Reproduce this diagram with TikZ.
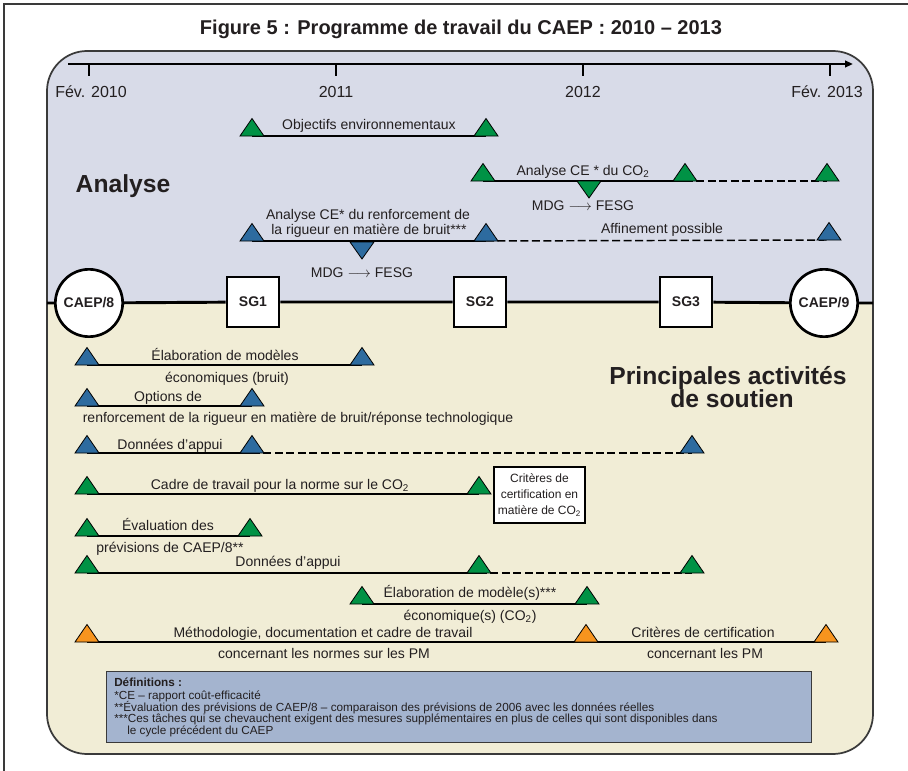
\documentclass[tikz,border=0pt]{standalone}
\usepackage{fontspec}
\setmainfont{Liberation Sans}
\usetikzlibrary{arrows.meta}
\definecolor{upcol}{HTML}{D8DBE8}
\definecolor{lowcol}{HTML}{F1EDD6}
\definecolor{defcol}{HTML}{A4B4CF}
\definecolor{msgreen}{HTML}{009245}
\definecolor{msblue}{HTML}{2D6B9F}
\definecolor{msorange}{HTML}{F7941E}
\definecolor{txt}{HTML}{231F20}
\definecolor{panelcol}{HTML}{3A3A3A}
\begin{document}
\begin{tikzpicture}[x=0.75pt,y=-0.75pt,
  lbl/.style={font=\fontsize{10.5}{12.6}\selectfont, inner sep=0pt, anchor=base, text=txt},
  big/.style={font=\fontsize{18.5}{22}\bfseries\selectfont, inner sep=0pt, anchor=base, text=txt},
  axl/.style={font=\fontsize{12}{14}\selectfont, inner sep=0pt, anchor=base, text=txt},
  defl/.style={font=\fontsize{8.8}{10}\selectfont, inner sep=0pt, anchor=base west, text=txt},
  ms/.pic={\path[pic actions, draw=black, line width=0.6pt] (-12,0) -- (0,-17.5) -- (12,0) -- cycle;},
  msd/.pic={\path[pic actions, draw=black, line width=0.6pt] (-12,0) -- (12,0) -- (0,17) -- cycle;},
  task/.style={line width=1.1pt, draw=black},
  taskd/.style={task, dash pattern=on 6pt off 2.6pt},
  meet/.style={circle, draw=black, line width=2pt, fill=white, minimum size=50.5pt, inner sep=0pt, font=\fontsize{10.5}{12}\bfseries\selectfont, text=txt},
  sgbox/.style={rectangle, draw=black, line width=1.6pt, fill=white, minimum width=39.5pt, minimum height=38pt, inner sep=0pt, font=\fontsize{10.5}{12}\bfseries\selectfont, text=txt},
]
\useasboundingbox (0,0) rectangle (908,771);
\clip (0,0) rectangle (908,771);
\draw[line width=1.8pt, draw=panelcol] (4,4) rectangle (960,820);

% title
\node[font=\fontsize{15}{18}\bfseries\selectfont, anchor=base, inner sep=0pt, text=txt] (title) at (461,35) {Figure 5 : Programme de travail du CAEP : 2010 – 2013};

% panel
\fill[lowcol, rounded corners=30pt] (47,51) rectangle (873,754);
\begin{scope}
\clip[rounded corners=30pt] (47,51) rectangle (873,754);
\fill[upcol] (40,40) rectangle (880,303);
\end{scope}
\draw[panelcol, line width=1.3pt, rounded corners=30pt] (47,51) rectangle (873,754);

% top axis
\coordinate (ax0) at (68,64);
\coordinate (ax1) at (853,64);
\draw[line width=1.6pt, -{Triangle[length=6pt,width=5pt]}] (ax0) -- (ax1);
\foreach \x in {89,336,583,830} {
  \coordinate (tk\x) at (\x,64);
  \draw[line width=1.6pt] (tk\x) -- ++(0,12);
}
\node[axl] (y10) at (91,97) {Fév. 2010};
\node[axl] (y11) at (336,97) {2011};
\node[axl] (y12) at (583,97) {2012};
\node[axl] (y13) at (827,97) {Fév. 2013};

% middle timeline
\coordinate (tl0) at (47,303);
\coordinate (tl1) at (873,303);
\node[meet] (c8) at (89,303) {CAEP/8};
\node[meet] (c9) at (824,303) {CAEP/9};
\node[sgbox] (sg1) at (253,302) {SG1};
\node[sgbox] (sg2) at (480,302) {SG2};
\node[sgbox] (sg3) at (686,302) {SG3};
\begin{scope}[on background layer/.style={}]
\end{scope}
\draw[line width=2.2pt] (tl0) -- (c8) (c8) -- (sg1) (sg1) -- (sg2) (sg2) -- (sg3) (sg3) -- (c9) (c9) -- (tl1);

% ---------- Analyse ----------
\node[big] (analyse) at (123,192) {Analyse};

% Objectifs environnementaux
\coordinate (o1) at (252,136);
\coordinate (o2) at (486,136);
\draw[task] (o1) -- (o2);
\pic[fill=msgreen] at (o1) {ms};
\pic[fill=msgreen] at (o2) {ms};
\node[lbl] (ot) at (369,129) {Objectifs environnementaux};

% Analyse CE du CO2
\coordinate (a1) at (483,181);
\coordinate (a2) at (685,181);
\coordinate (a3) at (827,181);
\coordinate (ad) at (589,181);
\draw[task] (a1) -- (a2);
\draw[taskd] (a2) -- (a3);
\pic[fill=msgreen] at (a1) {ms};
\pic[fill=msgreen] at (a2) {ms};
\pic[fill=msgreen] at (a3) {ms};
\pic[fill=msgreen] at (ad) {msd};
\node[lbl] (at) at (583,175) {Analyse CE * du CO\textsubscript{2}};
\node[lbl] (am) at (583,210) {MDG $\longrightarrow$ FESG};

% Analyse CE bruit
\coordinate (b1) at (252,241);
\coordinate (b2) at (486,241);
\coordinate (b3) at (829,240);
\coordinate (bd) at (362,242);
\draw[task] (b1) -- (b2);
\draw[taskd] (b2) -- (b3);
\pic[fill=msblue] at (b1) {ms};
\pic[fill=msblue] at (b2) {ms};
\pic[fill=msblue] at (b3) {ms};
\pic[fill=msblue] at (bd) {msd};
\node[lbl] (bt1) at (368,219) {Analyse CE* du renforcement de};
\node[lbl] (bt2) at (369,234) {la rigueur en matière de bruit***};
\node[lbl] (bm) at (362,277) {MDG $\longrightarrow$ FESG};
\node[lbl] (bt3) at (662,233) {Affinement possible};

% ---------- Principales activités ----------
\node[big] (pa1) at (728,384) {Principales activités};
\node[big] (pa2) at (732,407) {de soutien};

% Row A
\coordinate (ra1) at (87,365);
\coordinate (ra2) at (362,365);
\draw[task] (ra1) -- (ra2);
\pic[fill=msblue] at (ra1) {ms};
\pic[fill=msblue] at (ra2) {ms};
\node[lbl] (rat1) at (225,360) {Élaboration de modèles};
\node[lbl] (rat2) at (227,382) {économiques (bruit)};

% Row B
\coordinate (rb1) at (87,406);
\coordinate (rb2) at (252,406);
\draw[task] (rb1) -- (rb2);
\pic[fill=msblue] at (rb1) {ms};
\pic[fill=msblue] at (rb2) {ms};
\node[lbl] (rbt1) at (168,401) {Options de};
\node[lbl] (rbt2) at (298,422) {renforcement de la rigueur en matière de bruit/réponse technologique};

% Row C
\coordinate (rc1) at (87,453);
\coordinate (rc2) at (252,453);
\coordinate (rc3) at (692,453);
\draw[task] (rc1) -- (rc2);
\draw[taskd] (rc2) -- (rc3);
\pic[fill=msblue] at (rc1) {ms};
\pic[fill=msblue] at (rc2) {ms};
\pic[fill=msblue] at (rc3) {ms};
\node[lbl] (rct) at (170,449) {Données d’appui};

% Row D
\coordinate (rd1) at (87,494);
\coordinate (rd2) at (479,494);
\draw[task] (rd1) -- (rd2);
\pic[fill=msgreen] at (rd1) {ms};
\pic[fill=msgreen] at (rd2) {ms};
\node[lbl] (rdt) at (280,489) {Cadre de travail pour la norme sur le CO\textsubscript{2}};
\node[draw=black, line width=1.6pt, fill=white, minimum width=68pt, minimum height=42pt, inner sep=0pt, align=center, font=\fontsize{9}{12}\selectfont, text=txt] (crit) at (539.5,495) {Critères de\\certification en\\matière de CO\textsubscript{2}};

% Row E
\coordinate (re1) at (87,536);
\coordinate (re2) at (250,536);
\draw[task] (re1) -- (re2);
\pic[fill=msgreen] at (re1) {ms};
\pic[fill=msgreen] at (re2) {ms};
\node[lbl] (ret1) at (168,530) {Évaluation des};
\node[lbl] (ret2) at (170,552) {prévisions de CAEP/8**};

% Row F
\coordinate (rf1) at (87,573);
\coordinate (rf2) at (479,573);
\coordinate (rf3) at (692,573);
\draw[task] (rf1) -- (rf2);
\draw[taskd] (rf2) -- (rf3);
\pic[fill=msgreen] at (rf1) {ms};
\pic[fill=msgreen] at (rf2) {ms};
\pic[fill=msgreen] at (rf3) {ms};
\node[lbl] (rft) at (288,566) {Données d’appui};

% Row G
\coordinate (rg1) at (362,604);
\coordinate (rg2) at (587,604);
\draw[task] (rg1) -- (rg2);
\pic[fill=msgreen] at (rg1) {ms};
\pic[fill=msgreen] at (rg2) {ms};
\node[lbl] (rgt1) at (470,597) {Élaboration de modèle(s)***};
\node[lbl] (rgt2) at (470,620) {économique(s) (CO\textsubscript{2})};

% Row H
\coordinate (rh1) at (87,642);
\coordinate (rh2) at (586,642);
\coordinate (rh3) at (826,642);
\draw[task] (rh1) -- (rh2) -- (rh3);
\pic[fill=msorange] at (rh1) {ms};
\pic[fill=msorange] at (rh2) {ms};
\pic[fill=msorange] at (rh3) {ms};
\node[lbl] (rht1) at (323,637) {Méthodologie, documentation et cadre de travail};
\node[lbl] (rht2) at (324,658) {concernant les normes sur les PM};
\node[lbl] (rht3) at (703,637) {Critères de certification};
\node[lbl] (rht4) at (705,658) {concernant les PM};

% Definitions
\node[draw=panelcol, line width=1pt, fill=defcol, minimum width=528.75pt, minimum height=53.25pt, inner sep=0pt, anchor=north west] (defs) at (106,671) {};
\node[defl, font=\fontsize{8.8}{10}\bfseries\selectfont] (d0) at (114,686) {Définitions :};
\node[defl] (d1) at (114,699) {*CE – rapport coût-efficacité};
\node[defl] (d2) at (114,711) {**Évaluation des prévisions de CAEP/8 – comparaison des prévisions de 2006 avec les données réelles};
\node[defl] (d3) at (114,722) {***Ces tâches qui se chevauchent exigent des mesures supplémentaires en plus de celles qui sont disponibles dans};
\node[defl] (d4) at (127,734) {le cycle précédent du CAEP};
\end{tikzpicture}
\end{document}
